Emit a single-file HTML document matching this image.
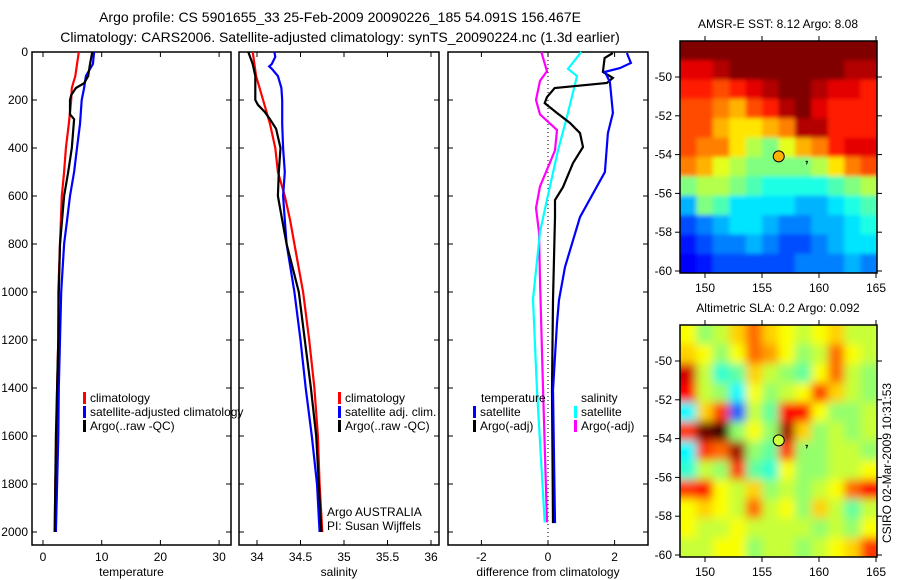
<!DOCTYPE html>
<html><head><meta charset="utf-8"><style>
html,body{margin:0;padding:0;background:#fff;}
svg{display:block;font-family:"Liberation Sans",sans-serif;}
</style></head><body>
<svg id="fig" width="900" height="580" viewBox="0 0 900 580" xmlns="http://www.w3.org/2000/svg">
<defs>
<filter id="blurA" x="-5%" y="-5%" width="110%" height="110%"><feGaussianBlur stdDeviation="2"/></filter>
<filter id="blurB" x="-5%" y="-5%" width="110%" height="110%"><feGaussianBlur stdDeviation="4.5"/></filter>
<clipPath id="clipSst"><rect x="680" y="41" width="197" height="232"/></clipPath>
<clipPath id="clipSla"><rect x="680" y="325" width="197" height="232"/></clipPath>
</defs>
<text x="340" y="22" font-size="14" text-anchor="middle">Argo profile: CS 5901655_33 25-Feb-2009 20090226_185 54.091S 156.467E</text>
<text x="340" y="42" font-size="14" text-anchor="middle">Climatology: CARS2006. Satellite-adjusted climatology: synTS_20090224.nc (1.3d earlier)</text>
<g id="g1"></g>
<g id="g2"></g>
<g id="g3"></g>
<g id="m1"></g>
<g id="m2"></g>
<text x="0" y="0" font-size="12" text-anchor="middle" transform="translate(891,463) rotate(-90)">CSIRO 02-Mar-2009 10:31:53</text>
</svg>
<script>
// ---- data ----
const yTicks = [0,200,400,600,800,1000,1200,1400,1600,1800,2000];
const tTicks = [0,10,20,30];
const sTicks = [34,34.5,35,35.5,36];
const sTickLabels = ['34','34.5','35','35.5','36'];
const dTicks = [-2,0,2];
const lonTicks = [150,155,160,165];
const latTicks = [-50,-52,-54,-56,-58,-60];

const tClimDepth = [0,100,150,200,300,400,500,600,800,1000,1200,1400,1600,1800,2000];
const tClim = [6.1,5.5,4.9,4.8,4.4,3.9,3.6,3.2,2.9,2.6,2.6,2.4,2.3,2.1,2.0];
const tSatDepth = [0,50,100,150,200,300,400,500,600,700,800,1000,1200,1400,1600,1800,2000];
const tSat = [8.7,8.5,7.3,7.0,6.6,6.3,5.8,5.3,4.6,4.1,3.6,3.1,2.9,2.7,2.6,2.4,2.2];
const tArgoDepth = [0,50,100,130,150,180,200,260,280,400,500,600,800,1000,1200,1400,1600,2000];
const tArgo = [8.4,8.0,7.7,7.0,5.6,4.8,4.6,4.6,5.3,4.9,4.3,3.6,2.9,2.7,2.6,2.4,2.2,2.0];

const sClimDepth = [0,50,100,150,200,300,400,500,600,700,800,1000,1200,1400,1600,1800,2000];
const sClim = [33.95,33.97,33.99,34.03,34.07,34.15,34.21,34.24,34.32,34.38,34.43,34.53,34.6,34.66,34.70,34.72,34.75];
const sSatDepth = [0,20,50,60,70,100,150,200,300,400,500,600,700,800,1000,1200,1400,1600,1800,2000];
const sSat = [34.2,34.21,34.17,34.14,34.17,34.24,34.28,34.29,34.29,34.3,34.32,34.3,34.32,34.34,34.43,34.5,34.56,34.63,34.69,34.72];
const sArgoDepth = [0,50,100,150,200,220,250,280,320,400,500,600,700,800,1000,1200,1400,1600,1800,2000];
const sArgo = [33.9,33.95,33.98,33.98,33.98,34.01,34.09,34.15,34.22,34.27,34.25,34.24,34.29,34.34,34.48,34.55,34.62,34.68,34.71,34.74];

const dTSatDepth = [4,46,67,83,125,254,338,500,688,896,1033,1129,1408,1963];
const dTSat = [2.37,2.49,2.16,1.71,1.86,1.95,1.8,1.71,0.96,0.51,0.33,0.27,0.15,0.21];
const dTArgoDepth = [4,25,83,108,129,150,188,213,254,296,338,396,463,563,617,688,1033,1408,1963];
const dTArgo = [1.95,1.7,1.65,1.95,1.77,0.2,-0.03,-0.1,0.27,0.66,0.96,1.05,0.75,0.45,0.21,0.21,0.15,0.12,0.15];
const dSSatDepth = [0,70,100,270,410,615,750,1030,1410,1960];
const dSSat = [1.0,0.6,0.87,0.57,0.3,-0.03,-0.24,-0.45,-0.33,-0.1];
const dSArgoDepth = [0,80,120,200,260,325,410,560,650,750,950,1400,1960];
const dSArgo = [-0.2,-0.03,-0.24,-0.36,-0.24,0.27,0.21,-0.24,-0.36,-0.27,-0.24,-0.15,-0.03];

const sstGrid = [
[1,1,1,1,1,1,1,1,1,1,1,1],
[0.9,0.9,0.95,1,1,1,1,1,1,1,0.95,0.95],
[0.85,0.85,0.8,0.85,0.9,0.95,1,1,0.95,0.9,0.9,0.85],
[0.8,0.8,0.75,0.7,0.8,0.85,0.95,1,0.9,0.85,0.85,0.85],
[0.8,0.8,0.7,0.65,0.65,0.7,0.75,0.95,0.95,0.85,0.85,0.85],
[0.8,0.75,0.75,0.65,0.55,0.5,0.6,0.7,0.75,0.85,0.9,0.9],
[0.75,0.7,0.6,0.55,0.5,0.5,0.5,0.5,0.55,0.65,0.75,0.8],
[0.5,0.55,0.55,0.5,0.45,0.4,0.4,0.4,0.4,0.45,0.5,0.55],
[0.3,0.5,0.45,0.35,0.35,0.35,0.35,0.3,0.3,0.35,0.4,0.45],
[0.2,0.25,0.3,0.35,0.35,0.3,0.25,0.25,0.3,0.3,0.35,0.4],
[0.15,0.2,0.25,0.25,0.3,0.25,0.2,0.2,0.25,0.3,0.35,0.35],
[0.12,0.15,0.2,0.2,0.2,0.2,0.2,0.25,0.25,0.25,0.3,0.25]];
const slaGrid = [
[0.55,0.45,0.5,0.6,0.7,0.6,0.55,0.5,0.55,0.6,0.5,0.5],
[0.6,0.55,0.45,0.55,0.7,0.65,0.55,0.45,0.5,0.7,0.55,0.5],
[0.85,0.5,0.35,0.4,0.6,0.5,0.45,0.4,0.55,0.7,0.5,0.45],
[0.8,0.5,0.45,0.3,0.55,0.45,0.5,0.55,0.75,0.6,0.5,0.45],
[0.3,0.6,0.75,0.15,0.5,0.4,0.8,0.8,0.55,0.45,0.45,0.5],
[0.75,0.95,1.0,0.45,0.55,0.45,0.9,0.6,0.45,0.5,0.45,0.5],
[0.3,0.75,0.7,0.9,0.45,0.4,0.75,0.45,0.45,0.5,0.5,0.45],
[0.35,0.5,0.45,0.75,0.4,0.35,0.55,0.45,0.45,0.5,0.5,0.55],
[0.75,0.8,0.55,0.5,0.6,0.45,0.5,0.45,0.5,0.55,0.7,0.8],
[0.55,0.6,0.55,0.5,0.7,0.5,0.55,0.45,0.6,0.5,0.4,0.5],
[0.55,0.5,0.5,0.55,0.5,0.5,0.5,0.5,0.45,0.5,0.45,0.55],
[0.5,0.5,0.55,0.55,0.45,0.5,0.5,0.45,0.5,0.55,0.6,0.75]];
const argoLon = 156.467, argoLat = -54.091;

// ---- helpers ----
const NS='http://www.w3.org/2000/svg';
function mk(tag, attrs, parent){const e=document.createElementNS(NS,tag);for(const k in attrs)e.setAttribute(k,attrs[k]);parent.appendChild(e);return e;}
const yD = d => 52 + d*0.24;
function panel(g, x0, x1, xs, ticks, labels, xlabel, showY){
  const box = mk('rect',{x:x0,y:52,width:x1-x0,height:493,fill:'none',stroke:'#000','stroke-width':1.5},g);
  
  
  ticks.forEach((t,i)=>{
    const x=xs(t);
    mk('line',{x1:x,y1:545,x2:x,y2:540,stroke:'#000'},g);
    mk('line',{x1:x,y1:52,x2:x,y2:57,stroke:'#000'},g);
    const tx=mk('text',{x:x,y:561,'font-size':12,'text-anchor':'middle'},g);
    tx.textContent=labels[i];
    
    
  });
  yTicks.forEach(d=>{
    const y=yD(d);
    mk('line',{x1:x0,y1:y,x2:x0+5,y2:y,stroke:'#000'},g);
    mk('line',{x1:x1,y1:y,x2:x1-5,y2:y,stroke:'#000'},g);
    if(showY){const tx=mk('text',{x:28,y:y+4,'font-size':12,'text-anchor':'end'},g);tx.textContent=String(d);
      
      }
  });
  const xl=mk('text',{x:(x0+x1)/2,y:576,'font-size':12,'text-anchor':'middle'},g);
  xl.textContent=xlabel;
  
  
}
function line(g, xs, depths, vals, color, name){
  const pts=depths.map((d,i)=>xs(vals[i]).toFixed(1)+','+yD(d).toFixed(1)).join(' ');
  const p=mk('polyline',{points:pts,fill:'none',stroke:color,'stroke-width':2.2},g);
  
  
}
function legend(g, items){
  items.forEach(it=>{
    if(it.c){mk('rect',{x:it.x,y:it.y-10,width:3,height:12,fill:it.c},g);}
    const t=mk('text',{x:it.x+(it.c?7:0),y:it.y,'font-size':12},g);
    t.textContent=it.t;
    
    
  });
}

// panel 1
const g1=document.getElementById('g1');
const xT = v => 43 + v*5.87;
panel(g1,32,231,xT,tTicks,tTicks.map(String),'temperature',true);
line(g1,xT,tClimDepth,tClim,'#f00','temp-climatology-line');
line(g1,xT,tSatDepth,tSat,'#00f','temp-satellite-line');
line(g1,xT,tArgoDepth,tArgo,'#000','temp-argo-line');
legend(g1,[{x:83,y:402,c:'#f00',t:'climatology'},{x:83,y:416,c:'#00f',t:'satellite-adjusted climatology'},{x:83,y:430,c:'#000',t:'Argo(..raw -QC)'}]);

// panel 2
const g2=document.getElementById('g2');
const xS = v => 257 + (v-34)*87;
panel(g2,239,439,xS,sTicks,sTickLabels,'salinity',false);
line(g2,xS,sClimDepth,sClim,'#f00','sal-climatology-line');
line(g2,xS,sSatDepth,sSat,'#00f','sal-satellite-line');
line(g2,xS,sArgoDepth,sArgo,'#000','sal-argo-line');
legend(g2,[{x:338,y:402,c:'#f00',t:'climatology'},{x:338,y:416,c:'#00f',t:'satellite adj. clim.'},{x:338,y:430,c:'#000',t:'Argo(..raw -QC)'}]);
legend(g2,[{x:327,y:516,t:'Argo AUSTRALIA'},{x:327,y:530,t:'PI: Susan Wijffels'}]);

// panel 3
const g3=document.getElementById('g3');
const xDf = v => 548 + v*33.3;
panel(g3,448,648,xDf,dTicks,dTicks.map(String),'difference from climatology',false);
const zl=mk('line',{x1:xDf(0),y1:52,x2:xDf(0),y2:545,stroke:'#000','stroke-dasharray':'1,3'},g3);


line(g3,xDf,dSArgoDepth,dSArgo,'#f0f','dsal-argo-line');
line(g3,xDf,dSSatDepth,dSSat,'#0ff','dsal-satellite-line');
line(g3,xDf,dTArgoDepth,dTArgo,'#000','dtemp-argo-line');
line(g3,xDf,dTSatDepth,dTSat,'#00f','dtemp-satellite-line');
legend(g3,[{x:481,y:402,t:'temperature'},{x:473,y:416,c:'#00f',t:'satellite'},{x:473,y:430,c:'#000',t:'Argo(-adj)'},
 {x:581,y:402,t:'salinity'},{x:574,y:416,c:'#0ff',t:'satellite'},{x:574,y:430,c:'#f0f',t:'Argo(-adj)'}]);

// maps
function jet(v){
  const r=Math.max(0,Math.min(1,Math.min(4*v-1.5,-4*v+4.5)));
  const g=Math.max(0,Math.min(1,Math.min(4*v-0.5,-4*v+3.5)));
  const b=Math.max(0,Math.min(1,Math.min(4*v+0.5,-4*v+2.5)));
  return 'rgb('+Math.round(r*255)+','+Math.round(g*255)+','+Math.round(b*255)+')';
}
function map(id, top, grid, clip, blur, title, circFill, shift){
  const g=document.getElementById(id);
  const xL = lon => 705 + (lon-150)*11.4;
  const yL = lat => (top===41?77:361) + (-50-lat)*19.4;
  const t=mk('text',{x:778,y:top-13,'font-size':12,'text-anchor':'middle'},g);
  t.textContent=title;
  
  
  const cg=mk('g',{'clip-path':'url(#'+clip+')'},g);
  const ig=mk('g',{filter:'url(#'+blur+')'},cg);
  const rows=grid.length, cols=grid[0].length;
  const cw=197/cols, ch=232/rows, pad=12;
  grid.forEach((row,r)=>row.forEach((v,c)=>{
    let x=680+c*cw, y=top+r*ch, w=cw+0.6, h=ch+0.6;
    if(c===0){x-=pad;w+=pad;} if(c===cols-1){w+=pad;}
    if(r===0){y-=pad;h+=pad;} if(r===rows-1){h+=pad;}
    const cell=mk('rect',{x:x.toFixed(1),y:y.toFixed(1),width:w.toFixed(1),height:h.toFixed(1),fill:jet(v+shift)},ig);
    
    
  }));
  const fr=mk('rect',{x:680,y:top,width:197,height:232,fill:'none',stroke:'#000','stroke-width':1.5},g);
  
  
  lonTicks.forEach(l=>{const x=xL(l);
    mk('line',{x1:x,y1:top,x2:x,y2:top-5,stroke:'#000'},g);
    mk('line',{x1:x,y1:top+232,x2:x,y2:top+237,stroke:'#000'},g);
    const tx=mk('text',{x:x,y:top+251,'font-size':12,'text-anchor':'middle'},g);tx.textContent=String(l);
    
    });
  latTicks.forEach(l=>{const y=yL(l);
    mk('line',{x1:680,y1:y,x2:675,y2:y,stroke:'#000'},g);
    mk('line',{x1:877,y1:y,x2:882,y2:y,stroke:'#000'},g);
    const tx=mk('text',{x:672,y:y+4,'font-size':12,'text-anchor':'end'},g);tx.textContent=String(l);
    
    });
  const c=mk('circle',{cx:xL(argoLon),cy:yL(argoLat),r:5.5,fill:circFill,stroke:'#000','stroke-width':1},g);
  
  
  mk('path',{d:'M'+(xL(158.9)-1)+' '+(yL(-54.35))+' h2 l-1 3',stroke:'#000',fill:'none','stroke-width':1},g);
}
map('m1',41,sstGrid,'clipSst','blurA','AMSR-E SST: 8.12 Argo: 8.08','#ffb000',0);
map('m2',325,slaGrid,'clipSla','blurB','Altimetric SLA: 0.2 Argo: 0.092','#d0ff40',0.07);
</script>
</body></html>
